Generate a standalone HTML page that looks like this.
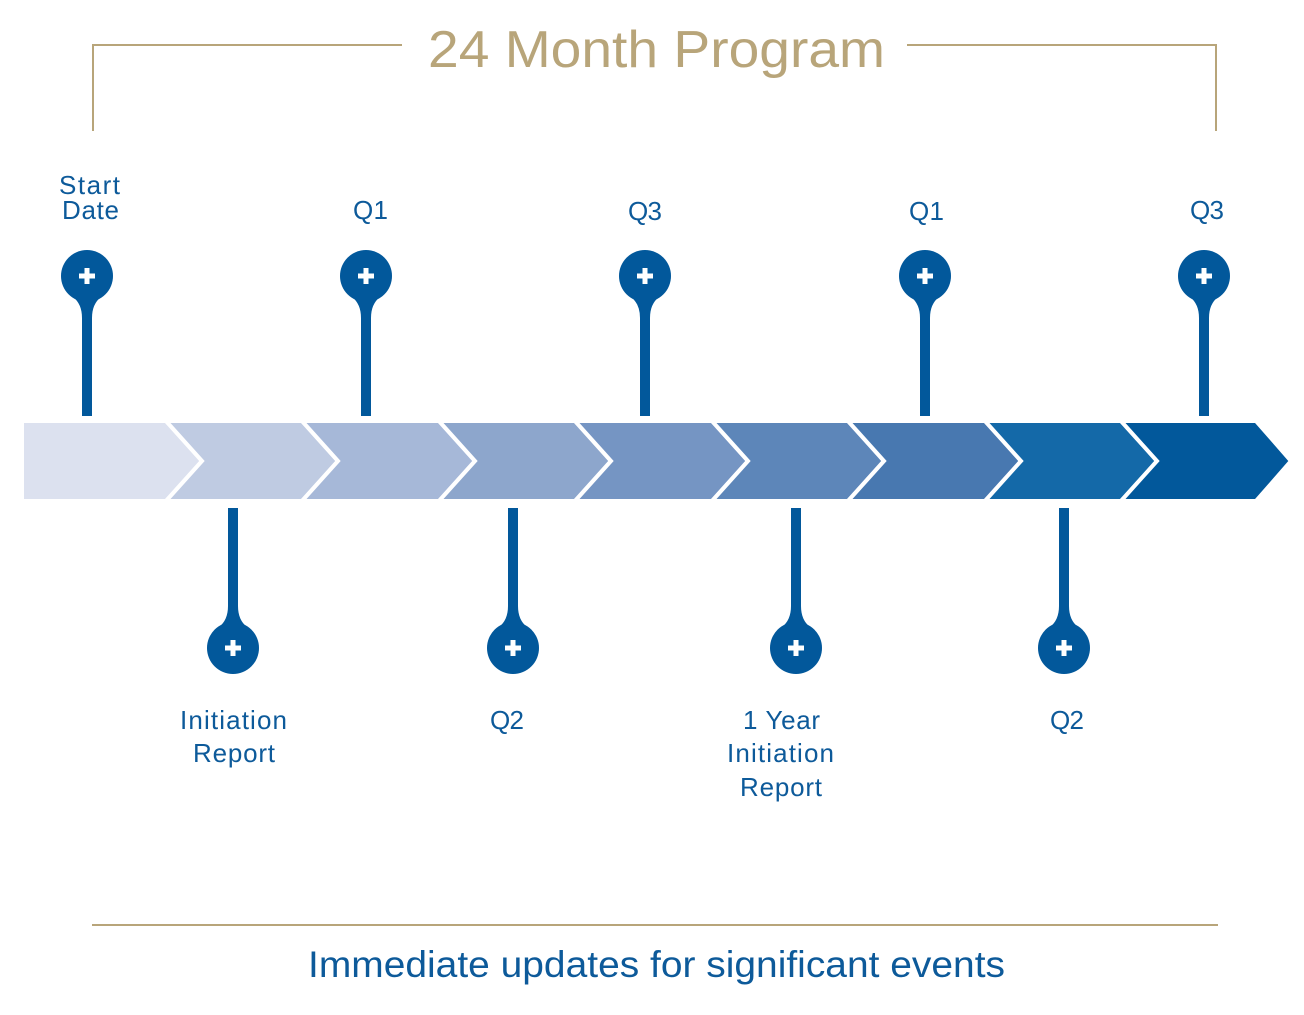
<!DOCTYPE html>
<html><head><style>
body{margin:0;background:#fff}
svg text{font-family:"Liberation Sans",sans-serif}
</style></head><body>
<svg width="1304" height="1010" viewBox="0 0 1304 1010" xmlns="http://www.w3.org/2000/svg">
<defs>
<g id="pu">
<circle cx="0" cy="0" r="26" fill="#02589b"/>
<path d="M-14,21 Q-5,28 -5,42 L5,42 Q5,28 14,21 Z" fill="#02589b"/>
<rect x="-5" y="30" width="10" height="110" fill="#02589b"/>
<rect x="-8" y="-2.5" width="16" height="5" fill="#fff"/>
<rect x="-2.5" y="-8" width="5" height="16" fill="#fff"/>
</g>
</defs>
<g fill="none" stroke="#b8a57a" stroke-width="2">
<polyline points="93,131 93,45 402,45"/>
<polyline points="907,45 1216,45 1216,131"/>
<line x1="92" y1="925" x2="1218" y2="925"/>
</g>
<text x="428" y="67" font-size="52" fill="#b8a57a" textLength="457" lengthAdjust="spacingAndGlyphs">24 Month Program</text>
<g stroke="#fff" stroke-width="4" stroke-linejoin="miter">
<polygon points="22,421 166,421 202,461 166,501 22,501" fill="#dce1ef"/>
<polygon points="166,421 302,421 338,461 302,501 166,501 202,461" fill="#bfcbe2"/>
<polygon points="302,421 439,421 475,461 439,501 302,501 338,461" fill="#a6b8d8"/>
<polygon points="439,421 575,421 611,461 575,501 439,501 475,461" fill="#8da6cc"/>
<polygon points="575,421 712,421 748,461 712,501 575,501 611,461" fill="#7595c3"/>
<polygon points="712,421 848,421 884,461 848,501 712,501 748,461" fill="#5d86b9"/>
<polygon points="848,421 985,421 1021,461 985,501 848,501 884,461" fill="#4878b0"/>
<polygon points="985,421 1121,421 1157,461 1121,501 985,501 1021,461" fill="#1469a8"/>
<polygon points="1121,421 1256,421 1291,461 1256,501 1121,501 1157,461" fill="#02589b"/>
</g>
<use href="#pu" x="87" y="276"/>
<use href="#pu" x="366" y="276"/>
<use href="#pu" x="645" y="276"/>
<use href="#pu" x="925" y="276"/>
<use href="#pu" x="1204" y="276"/>
<use href="#pu" transform="translate(233,648) scale(1,-1)"/>
<use href="#pu" transform="translate(513,648) scale(1,-1)"/>
<use href="#pu" transform="translate(796,648) scale(1,-1)"/>
<use href="#pu" transform="translate(1064,648) scale(1,-1)"/>
<g font-size="26" fill="#0d5a9a" lengthAdjust="spacingAndGlyphs">
<text x="59" y="194" textLength="61">Start</text>
<text x="62" y="219" textLength="57">Date</text>
<text x="353" y="219" textLength="35">Q1</text>
<text x="628" y="220" textLength="34">Q3</text>
<text x="909" y="220" textLength="35">Q1</text>
<text x="1190" y="219" textLength="34">Q3</text>
<text x="180" y="729" textLength="107">Initiation</text>
<text x="193" y="762" textLength="82">Report</text>
<text x="490" y="729" textLength="34">Q2</text>
<text x="743" y="729" textLength="77">1 Year</text>
<text x="727" y="762" textLength="107">Initiation</text>
<text x="740" y="796" textLength="82">Report</text>
<text x="1050" y="729" textLength="34">Q2</text>
</g>
<text x="308" y="977" font-size="37" fill="#0d5a9a" textLength="697" lengthAdjust="spacingAndGlyphs">Immediate updates for significant events</text>
</svg>
</body></html>
